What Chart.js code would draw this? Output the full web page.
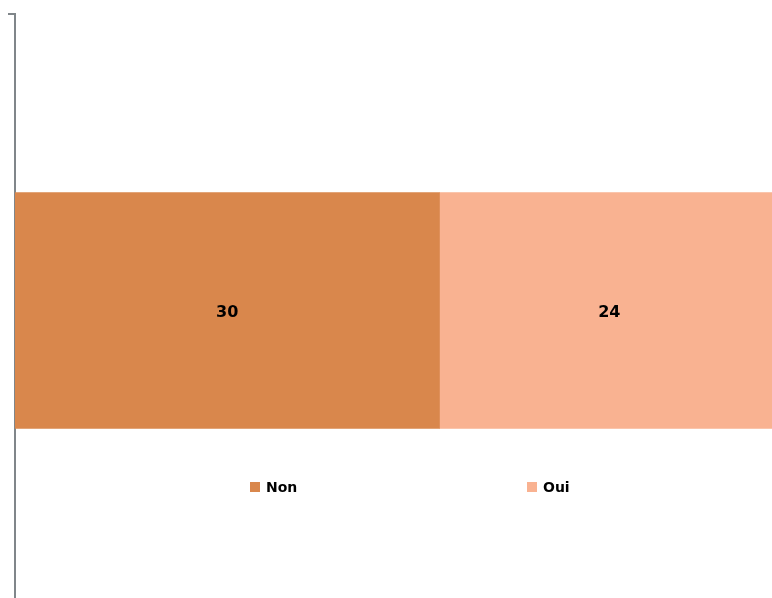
<!DOCTYPE html>
<html>
<head>
<meta charset="utf-8">
<script src="https://cdn.jsdelivr.net/npm/chart.js@4.4.1/dist/chart.umd.min.js"></script>
<style>
  html, body { margin: 0; padding: 0; background: #ffffff; overflow: hidden; }
  #wrap { width: 772px; height: 607px; }
</style>
</head>
<body>
<div id="wrap"><canvas id="c" width="772" height="607"></canvas></div>
<script>
// ---- data ----
const categories = [''];
const seriesNames = ['Non', 'Oui'];
const nonValues = [30];
const ouiValues = [24];
const axisMax = 53.5;

// ---- styles ----
const colors = ['#D9874C', '#F9B291'];
const axisColor = '#80868A';

const dataLabels = {
  id: 'dataLabels',
  afterDatasetsDraw(chart) {
    const ctx = chart.ctx;
    ctx.save();
    ctx.font = 'bold 16px "DejaVu Sans"';
    ctx.fillStyle = '#000000';
    ctx.textAlign = 'center';
    ctx.textBaseline = 'middle';
    chart.data.datasets.forEach((ds, i) => {
      const meta = chart.getDatasetMeta(i);
      meta.data.forEach((el, j) => {
        const p = el.getCenterPoint();
        ctx.fillText(String(ds.data[j]), p.x, p.y + 2);
      });
    });
    ctx.restore();
  }
};

const customLegend = {
  id: 'customLegend',
  afterDraw(chart, args, opts) {
    const ctx = chart.ctx;
    ctx.save();
    ctx.font = 'bold 14px "DejaVu Sans"';
    ctx.textBaseline = 'middle';
    ctx.textAlign = 'left';
    chart.data.datasets.forEach((ds, i) => {
      const x = opts.itemX[i];
      const y = opts.y;
      ctx.fillStyle = ds.backgroundColor;
      ctx.fillRect(x, y - 6, 10, 10);
      ctx.fillStyle = '#000000';
      ctx.fillText(ds.label, x + 16, y);
    });
    ctx.restore();
  }
};

new Chart(document.getElementById('c'), {
  type: 'bar',
  data: {
    labels: categories,
    datasets: [
      { label: seriesNames[0], data: nonValues, backgroundColor: colors[0], borderWidth: 0, barThickness: 236 },
      { label: seriesNames[1], data: ouiValues, backgroundColor: colors[1], borderWidth: 0, barThickness: 236 }
    ]
  },
  options: {
    indexAxis: 'y',
    responsive: false,
    devicePixelRatio: 1,
    animation: false,
    layout: { padding: { left: 8, top: 14, right: 0, bottom: 0 } },
    scales: {
      x: { type: 'linear', stacked: true, min: 0, max: axisMax, display: false },
      y: {
        type: 'category',
        stacked: true,
        grid: { display: true, drawOnChartArea: false, drawTicks: true, tickLength: 7, color: axisColor, lineWidth: 2, offset: true },
        border: { display: true, color: axisColor, width: 2 },
        ticks: { display: false }
      }
    },
    plugins: {
      legend: { display: false },
      tooltip: { enabled: false },
      customLegend: { itemX: [250, 527], y: 488 }
    }
  },
  plugins: [dataLabels, customLegend]
});
</script>
</body>
</html>
